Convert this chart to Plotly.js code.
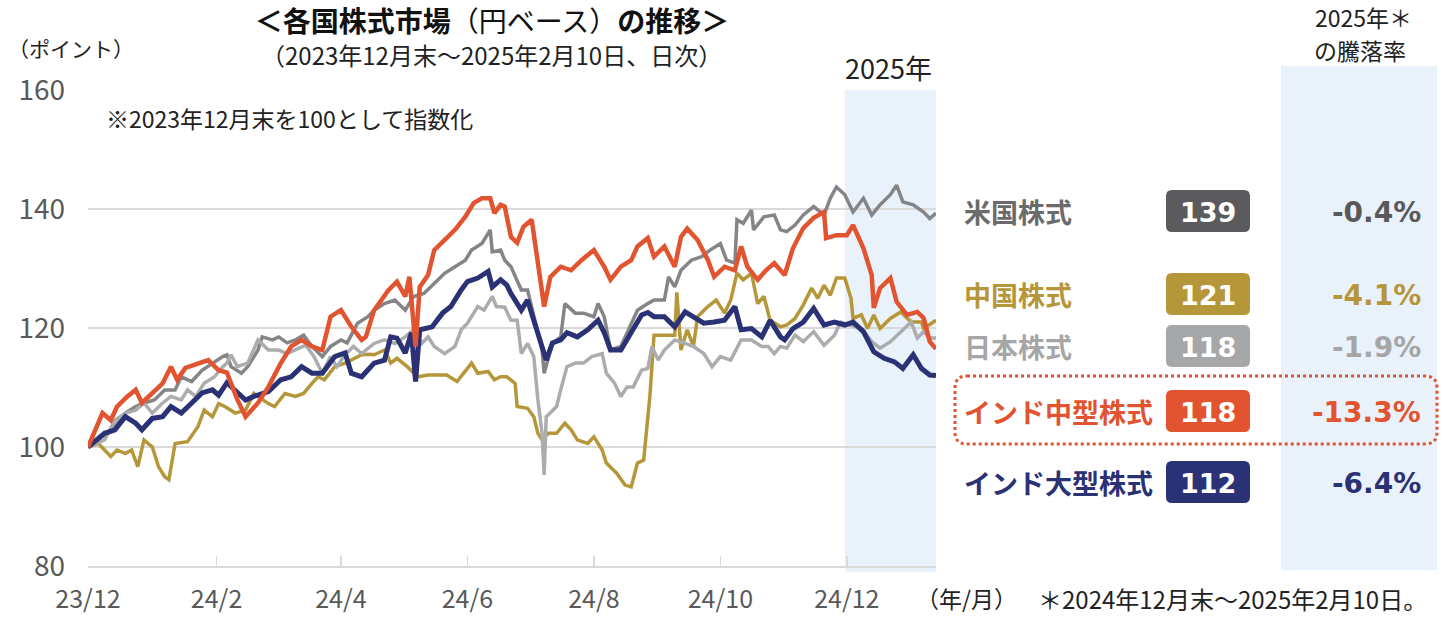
<!DOCTYPE html>
<html><head><meta charset="utf-8">
<script src="https://cdn.plot.ly/plotly-3.0.1.min.js"></script>
<style>html,body{margin:0;padding:0;background:#fff}#chart{width:1443px;height:617px}</style>
</head><body><div id="chart"></div>
<script>
// ---- data (day offsets from 2023-12-29, index: 2023年12月末 = 100) ----
const indiaMidDays = [0,7,11,14,19,23,26,31,36,40,43,47,53,58,63,67,72,76,82,87,93,98,103,108,113,117,122,127,132,134,138,145,149,153,155,158,160,164,167,172,177,182,186,190,194,196,199,201,204,207,210,214,217,220,223,228,233,238,244,249,252,257,262,265,270,273,278,283,286,289,294,299,302,307,312,315,318,323,327,331,336,340,345,350,355,356,361,366,369,374,378,379,382,387,390,395,400,403,406,409];
const indiaMid = [100,105.7,104.5,106.8,108.5,109.6,107.4,109,110.7,113.5,111.3,113.3,114.1,114.6,112.9,112.5,108,105.1,107.4,110.1,114.1,116.9,118,116.9,116.3,121.9,123,120.2,118,118.5,123,126.4,127.8,125.3,128.6,116.9,126.9,128.9,133.1,134.8,136.5,138.7,141,141.8,141.8,139.3,140.7,140.4,135.3,134.3,137,138.2,131.4,123.6,128.6,130.3,129.7,131.4,133.1,130.3,128.1,130.3,131.4,133.7,135.1,132,133.7,130.3,135.3,136.7,134.8,131.4,128.6,130.3,129.7,133.7,130.3,128.1,129.7,130.9,128.9,133.4,136.8,138.5,139.5,135.1,135.6,135.6,137.3,133.4,128.9,123.4,126.7,128.4,124.4,122.2,122.7,121.7,117.7,116.5];

const indiaLargeDays = [0,8,13,18,23,26,31,36,40,45,50,55,60,63,67,71,76,80,87,93,98,103,108,113,119,124,127,132,135,138,143,146,149,153,156,158,160,166,171,175,180,183,188,193,195,199,202,204,209,212,215,219,221,224,228,231,236,241,246,249,252,257,262,267,270,273,278,283,288,292,297,302,307,312,315,320,325,329,334,336,340,345,350,355,360,365,369,374,379,384,389,393,398,402,406,409];
const indiaLarge = [100,102.3,102.9,105.1,104,102.9,104.8,105.1,106.8,105.7,107.4,109.1,109.6,108.7,110.8,109.6,107.9,108.5,109.3,111.3,111.8,113.5,112.4,112.4,115.2,115.8,112.4,111.8,113,114.1,114.6,118.5,118.3,115.8,119.2,111,119.7,120.2,122.5,123.6,126.4,127.8,128.4,129.5,126.9,128.1,127.2,125.8,123,124.7,121.3,116.9,114.6,117.5,118,119.2,118.5,119.7,121.3,119.2,116.3,116.3,119.2,122.2,122.6,121.9,121.9,120.2,122.7,121.9,120.8,121,121.3,123.6,119.7,119.9,118.5,121.3,118.5,118,119.9,121,123.3,120.5,121,120.5,121,119.4,116,114.9,114.3,113.2,115.5,113.2,112.1,112];

const usDays = [0,13,18,23,27,32,37,42,45,50,55,60,65,67,69,74,77,82,84,89,92,96,100,104,108,113,117,122,125,130,135,138,143,148,153,157,162,167,172,177,182,185,190,194,195,199,201,204,209,212,215,219,220,224,228,230,235,239,244,246,249,252,257,262,265,270,273,278,280,283,286,291,296,300,305,308,312,313,316,320,321,326,331,334,337,341,345,350,355,358,361,365,369,374,378,382,387,390,393,398,403,406,409];
const us = [100,103.4,105.7,106.8,107.4,107.9,109.6,109.6,111.8,111,112.9,114.1,115.2,115.5,113.5,112.4,113.5,116.3,118.5,118,118.5,117.5,118,118.8,116.9,115.2,116.9,118,117.5,120.8,121.9,123,124.1,124.7,123,125.3,125.8,127.5,129.2,130.3,131.4,133.1,134.2,136.5,132.8,133.1,131.4,130.3,126.4,126.4,121.9,116.3,112.4,117.4,118.5,124.1,122.5,122.5,121.9,124.1,121.9,116.3,116.9,120.8,123,124.1,124.7,124.7,128.6,126.9,129.7,131.4,132,133.1,134.2,131.4,130.9,138.2,137.6,139.8,136.5,138.7,139,136.5,136.2,137.3,139,140.4,139,141.8,143.7,142.4,139.5,141.8,139,140.7,142.4,144,141.2,140.7,139.5,138.4,139.3];

const japanDays = [0,8,13,18,23,27,31,36,40,45,48,52,56,61,65,67,69,72,77,82,87,92,96,100,105,109,113,117,120,124,128,132,135,138,143,148,153,157,161,164,167,172,177,180,183,188,191,195,197,201,204,207,209,212,215,217,219,220,221,224,226,228,231,235,239,243,248,250,254,257,260,263,267,270,272,275,278,283,288,292,297,301,305,310,315,320,325,328,331,334,337,341,345,350,355,360,363,368,373,378,382,387,392,397,400,403,406,409];
const japan = [100,101.2,104.5,105.7,106.2,107.4,105.7,107.4,108.5,107.9,109.6,108.5,110.7,111.8,113.5,114.1,115.5,113.5,114.1,118,116.3,116.3,115.7,116.3,117.1,115.2,112.4,115.2,113.5,115.5,116.9,115.7,116.6,117.4,118,117.4,118.5,119.7,117.4,118.5,116.9,115.7,116.9,119.7,120.8,123.6,123,125.3,123.6,123.5,121.3,121.3,115.7,117.4,115.2,107.9,102.3,95.3,105.1,106.2,106.8,109.6,113.5,114.1,114.1,115.2,115.7,112.4,110.7,108.5,110.1,110.1,112.9,113.2,116.9,114.6,116.3,118,117.4,116.9,115.7,113.5,115.2,114.6,118,118,116.9,116.9,115.7,116.9,116.6,118.8,117.7,119.4,117.1,118.8,121,120.5,119.9,117.7,116.6,117.7,119.4,121,118.3,119.4,118.3,118.3];

const chinaDays = [0,5,8,11,14,18,21,24,27,31,34,37,39,42,48,53,56,60,63,66,71,76,80,82,87,90,95,100,104,108,111,114,119,124,127,132,136,138,143,146,149,154,159,164,169,173,178,182,185,188,193,196,199,202,206,207,212,215,217,219,222,226,230,233,236,241,244,248,250,255,259,262,265,268,271,273,283,284,286,289,292,294,299,303,307,310,313,316,320,323,326,329,334,337,341,345,349,352,355,358,361,365,368,369,373,376,379,382,387,392,397,402,403,409];
const china = [100,100.6,99.5,98.4,99.5,98.9,99.5,96.7,101.2,100,96.7,95,94.5,100.6,100.9,103.4,106.2,105.1,107.3,106.8,105.7,106.2,109,108.5,107.3,106.8,109,108.5,109,110.7,111.8,111.3,113.5,114.1,114.6,115.5,115.6,115.5,116.3,114.1,114.9,113.5,111.8,112.1,112.1,112.1,111,112.7,114.1,112.4,112.7,111.3,111.8,111.8,110.7,106.8,106.5,105.1,102.3,101.2,102.3,102.3,104,102.9,101.2,100.6,101.7,99.5,97.3,95.6,93.6,93.3,97.3,97.8,108.5,118.8,118.8,126,116.3,119.7,116.9,121.9,123.6,124.7,122.5,124.7,129.2,128.1,129.2,124.1,125.3,121.3,120.2,120.5,121.6,123.9,126.7,125,127.2,125.5,128.4,128.4,125,121.6,122.2,119.9,122.2,119.9,121.6,122.7,121,121,119.9,121.3];

const tickDates = ['2023-12-29','2024-02-29','2024-04-29','2024-06-29','2024-08-29','2024-10-29','2024-12-29'];
const tickLabels = ['23/12','24/2','24/4','24/6','24/8','24/10','24/12'];

const rowLabels  = ['米国株式','中国株式','日本株式','インド中型株式','インド大型株式'];
const rowLevels  = ['139','121','118','118','112'];
const rowChanges = ['-0.4%','-4.1%','-1.9%','-13.3%','-6.4%'];

// ---- helpers ----
const FONT = "'Noto Sans CJK JP', 'Noto Sans', sans-serif";
const NUMFONT = "'DejaVu Sans', Verdana, sans-serif";
const L = 88, R = 936, T = 90, B = 566;
const px = x => (x - L) / (R - L);
const py = y => (B - y) / (B - T);
const toDate = d => new Date(Date.UTC(2023, 11, 29) + d * 86400000).toISOString().slice(0, 10);
function rr(x0, y0, x1, y1, r) {
  const X = v => px(v).toFixed(5), Y = v => py(v).toFixed(5);
  return `M${X(x0+r)},${Y(y0)} L${X(x1-r)},${Y(y0)} Q${X(x1)},${Y(y0)} ${X(x1)},${Y(y0+r)} L${X(x1)},${Y(y1-r)} Q${X(x1)},${Y(y1)} ${X(x1-r)},${Y(y1)} L${X(x0+r)},${Y(y1)} Q${X(x0)},${Y(y1)} ${X(x0)},${Y(y1-r)} L${X(x0)},${Y(y0+r)} Q${X(x0)},${Y(y0)} ${X(x0+r)},${Y(y0)} Z`;
}
function ann(x, y, text, size, color, xanchor, extra) {
  return Object.assign({xref:'paper', yref:'paper', x:px(x), y:py(y), text:text, showarrow:false,
    xanchor:xanchor||'center', yanchor:'middle', font:{family:FONT, size:size, color:color||'#222'}}, extra||{});
}

const C = {mid:'#E2532F', large:'#2A3175', china:'#B5973A', us:'#858587', japan:'#ABACAE'};
const badgeColors = ['#5B5B5D', '#B5973A', '#A6A7A9', '#E2532F', '#2A3175'];
const labelColors = ['#6B6B6B', '#B5973A', '#A6A6A6', '#E2532F', '#2A3175'];
const changeColors = ['#595959', '#B5973A', '#A6A6A6', '#E2532F', '#2A3175'];
const rowY = [211, 294, 346, 411, 482];

function tr(days, vals, color, width, name) {
  return {x: days.map(toDate), y: vals, type:'scatter', mode:'lines', name:name,
    line:{color:color, width:width, shape:'linear'}, hoverinfo:'skip'};
}
const data = [
  tr(chinaDays, china, C.china, 3.5, '中国株式'),
  tr(usDays, us, C.us, 3.5, '米国株式'),
  tr(japanDays, japan, C.japan, 3.5, '日本株式'),
  tr(indiaLargeDays, indiaLarge, C.large, 5, 'インド大型株式'),
  tr(indiaMidDays, indiaMid, C.mid, 4.5, 'インド中型株式')
];

const shapes = [
  {type:'rect', xref:'x', yref:'paper', x0:'2024-12-28', x1:'2025-02-10', y0:-0.012, y1:1, fillcolor:'#E9F2FA', line:{width:0}, layer:'below'},
  {type:'rect', xref:'paper', yref:'paper', x0:px(1281), x1:px(1437), y0:py(570), y1:py(66), fillcolor:'#E9F2FA', line:{width:0}, layer:'below'},
  {type:'path', xref:'paper', yref:'paper', path:rr(955, 376, 1437, 444, 12), line:{color:'#E2532F', width:3, dash:'dot'}, fillcolor:'rgba(0,0,0,0)'}
];
const annotations = [
  ann(491, 54, '（2023年12月末～2025年2月10日、日次）', 24, '#222'),
  ann(6, 48, '（ポイント）', 21, '#222', 'left'),
  ann(104, 118, '※2023年12月末を100として指数化', 23, '#222', 'left'),
  ann(888, 68, '2025年', 27, '#222'),
  ann(914, 598, '（年/月）', 23, '#222', 'left'),
  ann(1036, 598, '＊2024年12月末～2025年2月10日。', 24, '#222', 'left'),
  ann(1363, 17, '2025年＊', 23, '#222'),
  ann(1360, 50, 'の騰落率', 23, '#222')
];
rowLabels.forEach((lab, i) => {
  const y = rowY[i];
  shapes.push({type:'path', xref:'paper', yref:'paper', path:rr(1166, y-21, 1250, y+21, 6), fillcolor:badgeColors[i], line:{width:0}});
  annotations.push(ann(962, y, '<b>' + lab + '</b>', 27, labelColors[i], 'left'));
  annotations.push(ann(1208, y + 1, '<b>' + rowLevels[i] + '</b>', 27, '#FFFFFF', 'center', {font:{family:NUMFONT, size:27, color:'#FFFFFF'}}));
  annotations.push(ann(1423, y + 1, '<b>' + rowChanges[i] + '</b>', 28, changeColors[i], 'right', {font:{family:NUMFONT, size:28, color:changeColors[i]}}));
});

const layout = {
  width:1443, height:617,
  margin:{l:L, r:1443-R, t:T, b:617-B, pad:0},
  paper_bgcolor:'#FFFFFF', plot_bgcolor:'rgba(0,0,0,0)',
  showlegend:false, hovermode:false,
  title:{text:'<b>＜各国株式市場</b>（円ベース）<b>の推移＞</b>', font:{family:FONT, size:28, color:'#111'},
    x:492/1443, xanchor:'center', xref:'container', y:1-22/617, yanchor:'middle', yref:'container'},
  xaxis:{type:'date', range:['2023-12-29','2025-02-10'], tickmode:'array', tickvals:tickDates, ticktext:tickLabels,
    showgrid:false, zeroline:false, showline:true, linecolor:'#D9D9D9', linewidth:2,
    ticks:'inside', ticklen:10, tickwidth:1.5, tickcolor:'#D9D9D9', ticklabelstandoff:10,
    tickfont:{family:FONT, size:25, color:'#595959'}},
  yaxis:{range:[80,160], tickvals:[80,100,120,140,160], showgrid:true, gridcolor:'#D9D9D9', gridwidth:2,
    zeroline:false, showline:false, ticks:'', ticklabelstandoff:22,
    tickfont:{family:FONT, size:28, color:'#595959'}},
  shapes:shapes, annotations:annotations
};
Plotly.newPlot('chart', data, layout, {displayModeBar:false, staticPlot:true});
</script></body></html>
